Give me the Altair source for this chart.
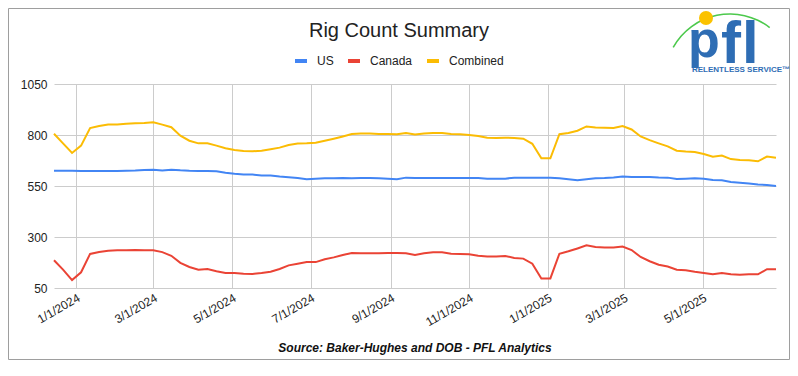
import altair as alt
import pandas as pd

# ---- data (weekly rig counts) ----
first_week = "2023-12-15"
n_weeks = 81
series_names = ["US", "Canada", "Combined"]
series_colors = ["#4285F4", "#EA4335", "#FBBC04"]

us = [625, 625, 625, 624, 624, 624, 624, 624, 625, 626, 628, 630, 626, 630, 627, 625, 624, 623, 622, 615, 610,
      606, 606, 602, 601, 596, 593, 589, 583, 586, 588, 588, 589, 588, 589, 589, 588, 586, 583, 591, 589,
      589, 589, 589, 589, 589, 589, 589, 586, 586, 586, 591, 591, 591, 591, 591, 588, 583, 578, 583, 588,
      589, 592, 596, 594, 594, 594, 592, 591, 584, 586, 588, 586, 579, 578, 570, 566, 562, 557, 555, 550]

canada = [186, 140, 89, 127, 217, 226, 233, 235, 235, 236, 235, 235, 226, 208, 173, 153, 140, 143, 132, 124, 124,
          120, 119, 124, 130, 143, 161, 169, 177, 177, 191, 200, 212, 222, 220, 220, 220, 222, 222, 220, 212,
          220, 225, 225, 218, 217, 215, 208, 204, 204, 207, 197, 194, 169, 97, 97, 218, 230, 244, 259, 251,
          249, 249, 253, 236, 202, 181, 164, 155, 140, 137, 130, 124, 117, 124, 117, 115, 117, 117, 142, 142]

combined = [806, 759, 712, 748, 834, 844, 852, 852, 855, 857, 859, 862, 851, 838, 797, 772, 759, 759, 748, 735, 726,
            722, 720, 723, 730, 738, 751, 758, 759, 762, 772, 782, 793, 805, 807, 807, 805, 805, 804, 810, 802,
            807, 810, 810, 805, 804, 800, 795, 787, 785, 787, 785, 782, 757, 686, 686, 804, 810, 821, 842, 837,
            836, 834, 844, 827, 793, 775, 759, 744, 723, 719, 717, 707, 694, 699, 682, 677, 676, 671, 694, 689]

y_ticks = [50, 300, 550, 800, 1050]
x_tick_dates = [(2024, 1), (2024, 3), (2024, 5), (2024, 7), (2024, 9), (2024, 11),
                (2025, 1), (2025, 3), (2025, 5)]

chart_title = "Rig Count Summary"
source_note = "Source: Baker-Hughes and DOB - PFL Analytics"

# ---- table ----
dates = pd.date_range(first_week, periods=n_weeks, freq="7D").strftime("%Y-%m-%dT00:00:00").tolist()
rows = []
for name, vals in zip(series_names, [us, canada, combined]):
    for d, v in zip(dates, vals):
        rows.append({"date": d, "series": name, "value": v})
df = pd.DataFrame(rows)
one = pd.DataFrame({"k": [0]})

FONT = "Liberation Sans"
BLUE_LOGO = "#2E6DB4"

x_values = [alt.DateTime(year=y, month=m, date=1) for y, m in x_tick_dates]

lines = alt.Chart(df).mark_line(strokeWidth=2).encode(
    x=alt.X("date:T",
            scale=alt.Scale(domain=[alt.DateTime(year=2023, month=12, date=15),
                                    alt.DateTime(year=2025, month=6, date=27)]),
            axis=alt.Axis(values=x_values, format="%-m/%-d/%Y", labelAngle=330, title=None,
                          grid=True, gridColor="#cccccc", domain=False, ticks=False,
                          labelFontSize=12, labelPadding=4, labelColor="#222222", labelFont=FONT,
                          labelOverlap=False)),
    y=alt.Y("value:Q",
            scale=alt.Scale(domain=[50, 1050], nice=False, zero=False),
            axis=alt.Axis(values=y_ticks, format="d", title=None, grid=True, gridColor="#cccccc",
                          domain=False, ticks=False, labelFontSize=12, labelPadding=7,
                          labelColor="#222222", labelFont=FONT)),
    color=alt.Color("series:N",
                    scale=alt.Scale(domain=series_names, range=series_colors),
                    legend=alt.Legend(title=None, orient="none", direction="horizontal",
                                      legendX=239, legendY=-31, symbolType="stroke",
                                      symbolSize=144, symbolStrokeWidth=4, labelFontSize=12,
                                      labelFont=FONT, labelColor="#222222", labelOffset=8,
                                      columnPadding=6)),
)

title_mark = alt.Chart(one).mark_text(text=chart_title, fontSize=20, font=FONT, color="#222222",
                                      align="center", baseline="middle").encode(
    x=alt.value(345), y=alt.value(-53))

source_mark = alt.Chart(one).mark_text(text=source_note, fontSize=12, font=FONT, fontWeight="bold",
                                       fontStyle="italic", color="#111111",
                                       align="center", baseline="middle").encode(
    x=alt.value(361), y=alt.value(264))

# logo
logo_arc = alt.Chart(one).mark_arc(theta=5.22, theta2=6.94, radius=64.2, radius2=65.8,
                                   color="#4CC94C").encode(x=alt.value(676), y=alt.value(-5))
logo_sun = alt.Chart(one).mark_point(shape="circle", filled=True, size=196, opacity=1,
                                     color="#FBC200").encode(x=alt.value(652), y=alt.value(-66))
logo_p = alt.Chart(one).mark_text(text="p", fontSize=52, fontWeight="bold", font=FONT,
                                  color=BLUE_LOGO, align="left", baseline="alphabetic").encode(
    x=alt.value(634), y=alt.value(-27))
logo_f = alt.Chart(one).mark_text(text="f", fontSize=60, fontWeight="bold", font=FONT,
                                  color=BLUE_LOGO, align="left", baseline="alphabetic").encode(
    x=alt.value(667), y=alt.value(-21))
logo_l = alt.Chart(one).mark_text(text="l", fontSize=60, fontWeight="bold", font=FONT,
                                  color=BLUE_LOGO, align="left", baseline="alphabetic").encode(
    x=alt.value(688), y=alt.value(-21))
logo_tag = alt.Chart(one).mark_text(text="RELENTLESS SERVICE\u2122", fontSize=8, fontWeight="bold",
                                    font=FONT, color=BLUE_LOGO,
                                    align="left", baseline="middle").encode(
    x=alt.value(638), y=alt.value(-14))

border = alt.Chart(one).mark_rect(filled=False, stroke="#9e9e9e", strokeWidth=1).encode(
    x=alt.value(-45.5), x2=alt.value(735.5), y=alt.value(-75.5), y2=alt.value(275.5))

chart = alt.layer(
    border, lines, title_mark, source_mark, logo_arc, logo_sun, logo_p, logo_f, logo_l, logo_tag
).properties(
    width=722, height=204,
    padding={"left": 46, "top": 76, "right": 14, "bottom": 72},
    autosize=alt.AutoSizeParams(type="none"),
    background="white",
).configure_view(stroke=None)

chart.save("out.html", embed_options={"renderer": "svg", "actions": False})
